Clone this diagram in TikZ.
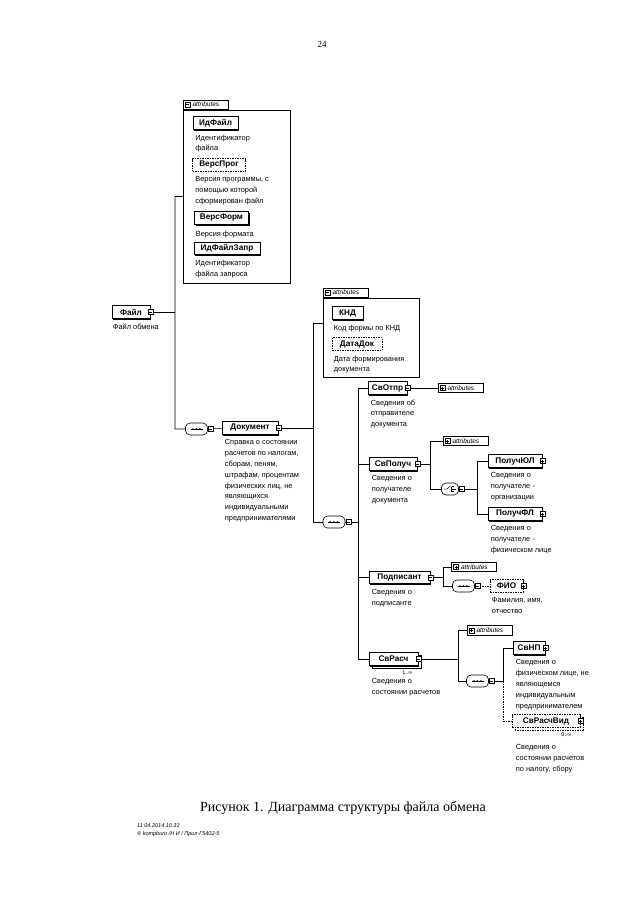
\documentclass[tikz,border=0pt]{standalone}
\usepackage{fontspec}
\setmainfont{Liberation Serif}
\setsansfont{Liberation Sans}
\usetikzlibrary{positioning,shadows,backgrounds}

\tikzset{
  elem/.style={draw, fill=white, line width=0.6pt, font=\sffamily\bfseries\fontsize{8.2}{9}\selectfont,
    minimum height=12.5pt, inner sep=1pt,
    general shadow={fill=black, shadow xshift=1.3pt, shadow yshift=-1.3pt}},
  optelem/.style={draw, fill=white, line width=0.6pt, dash pattern=on 1.5pt off 1pt,
    font=\sffamily\bfseries\fontsize{8.2}{9}\selectfont, minimum height=12.5pt, inner sep=1pt},
  multielem/.style={draw, fill=white, line width=0.6pt, font=\sffamily\bfseries\fontsize{8.2}{9}\selectfont,
    minimum height=12.5pt, inner sep=1pt,
    general shadow={draw, fill=white, line width=0.6pt, shadow xshift=2.8pt, shadow yshift=-2.8pt},
    general shadow={fill=black, shadow xshift=1.3pt, shadow yshift=-1.3pt}},
  multiopt/.style={draw, fill=white, line width=0.6pt, dash pattern=on 1.5pt off 1pt,
    font=\sffamily\bfseries\fontsize{8.2}{9}\selectfont, minimum height=12.5pt, inner sep=1pt,
    general shadow={draw, fill=white, line width=0.6pt, dash pattern=on 1.5pt off 1pt, shadow xshift=2.8pt, shadow yshift=-2.8pt}},
  descr/.style={font=\sffamily\fontsize{7.4}{10.8}\selectfont, align=left, inner sep=0pt, anchor=north west},
  card/.style={font=\sffamily\fontsize{5.5}{6}\selectfont, inner sep=0pt},
  compo/.style={draw, fill=white, line width=0.6pt, rounded corners=4.5pt, minimum width=22pt,
    minimum height=12pt, inner sep=0pt},
  attrtab/.style={draw, fill=white, line width=0.6pt, font=\sffamily\itshape\fontsize{6.5}{7}\selectfont,
    text width=40pt, align=left, minimum height=9.5pt, inner xsep=2.5pt, inner ysep=0pt},
  frame/.style={draw, fill=white, line width=0.6pt, inner sep=0pt,
    general shadow={fill=black, shadow xshift=1.1pt, shadow yshift=-1.1pt}},
  conn/.style={line width=0.6pt},
  optconn/.style={line width=0.6pt, dash pattern=on 1.5pt off 1pt},
  minusbox/.pic={\draw[fill=white, line width=0.5pt] (-2.5,-2.5) rectangle (2.5,2.5);
    \draw[line width=0.5pt] (-1.5,0) -- (1.5,0);},
  plusbox/.pic={\draw[fill=white, line width=0.5pt] (-2.5,-2.5) rectangle (2.5,2.5);
    \draw[line width=0.5pt] (-1.5,0) -- (1.5,0) (0,-1.5) -- (0,1.5);},
  seqmark/.pic={\draw[line width=0.5pt] (-6,0) -- (6,0);
    \fill (-3.5,0) circle (0.8) (0,0) circle (0.8) (3.5,0) circle (0.8);},
  choicemark/.pic={\draw[line width=0.5pt] (-6,0) -- (-3,0) -- (0.5,-3);
    \draw[line width=0.5pt] (1.5,-2.5) -- (1.5,2.5) (1.5,-2.5) -- (4,-2.5) (1.5,0) -- (6,0) (1.5,2.5) -- (4,2.5);},
}

\begin{document}
\begin{tikzpicture}[x=1pt,y=-1pt]
\useasboundingbox (0,0) rectangle (640,905);

\node[font=\fontsize{9}{10}\selectfont] (pagenum) at (322,45) {24};

% root
\node[elem, minimum width=38pt] (fajl) at (131,312) {Файл\hspace{4pt}};
\pic at (fajl.east) {minusbox};
\node[descr] (fajld) at ([xshift=1pt,yshift=-5pt]fajl.south west) {Файл обмена};

% attributes of the root
\node[frame, minimum width=107pt, minimum height=173pt] (attrfajl) at (236.5,196.5) {};
\node[attrtab, anchor=south west] (tabfajl) at (attrfajl.north west) {\hspace*{7pt}attributes};
\pic at ([xshift=5pt]tabfajl.west) {minusbox};

\node[elem, minimum width=45pt] (idfajl) at (215.5,123) {ИдФайл};
\node[descr] (idfajld) at ([xshift=2.5pt,yshift=-5pt]idfajl.south west) {Идентификатор\\файла};
\node[optelem, minimum width=53pt] (versprog) at (219,165) {ВерсПрог};
\node[descr] (versprogd) at ([xshift=3pt,yshift=-5pt]versprog.south west) {Версия программы, с\\помощью которой\\сформирован файл};
\node[elem, minimum width=54pt] (versform) at (221.5,218) {ВерсФорм};
\node[descr] (versformd) at ([xshift=1.5pt,yshift=-6pt]versform.south west) {Версия формата};
\node[elem, minimum width=66pt] (idzapr) at (227,248.5) {ИдФайлЗапр};
\node[descr] (idzaprd) at ([xshift=1.5pt,yshift=-5pt]idzapr.south west) {Идентификатор\\файла запроса};

% document
\node[compo] (seqdoc) at (196.5,429) {};
\pic at (seqdoc) {seqmark};
\pic at ([xshift=3pt]seqdoc.east) {minusbox};
\node[elem, minimum width=56pt] (doc) at (250,428) {Документ\hspace{4pt}};
\pic at (doc.east) {minusbox};
\node[descr] (docd) at ([xshift=3pt,yshift=-5pt]doc.south west) {Справка о состоянии\\расчетов по налогам,\\сборам, пеням,\\штрафам, процентам\\физических лиц, не\\являющихся\\индивидуальными\\предпринимателями};

% attributes of the document
\node[frame, minimum width=96pt, minimum height=79pt] (attrdoc) at (371,337.5) {};
\node[attrtab, anchor=south west] (tabdoc) at (attrdoc.north west) {\hspace*{7pt}attributes};
\pic at ([xshift=5pt]tabdoc.west) {minusbox};
\node[elem, minimum width=31pt] (knd) at (347.5,313) {КНД};
\node[descr] (kndd) at ([xshift=2pt,yshift=-5pt]knd.south west) {Код формы по КНД};
\node[optelem, minimum width=50pt] (datadok) at (357,344) {ДатаДок};
\node[descr] (datadokd) at ([xshift=2pt,yshift=-5pt]datadok.south west) {Дата формирования\\документа};

% content of the document
\node[compo] (seqmain) at (334,522) {};
\pic at (seqmain) {seqmark};
\pic at ([xshift=3pt]seqmain.east) {minusbox};

\node[elem, minimum width=39pt] (svotpr) at (387.5,388) {СвОтпр\hspace{4pt}};
\pic at (svotpr.east) {minusbox};
\node[attrtab] (attrotpr) at (460.5,388) {\hspace*{7pt}attributes};
\pic at ([xshift=5pt]attrotpr.west) {plusbox};
\node[descr] (svotprd) at ([xshift=3pt,yshift=-5pt]svotpr.south west) {Сведения об\\отправителе\\документа};

\node[elem, minimum width=48pt] (svpoluch) at (393,464) {СвПолуч\hspace{4pt}};
\pic at (svpoluch.east) {minusbox};
\node[descr] (svpoluchd) at ([xshift=3pt,yshift=-5pt]svpoluch.south west) {Сведения о\\получателе\\документа};
\node[attrtab] (attrpol) at (465.5,441) {\hspace*{7pt}attributes};
\pic at ([xshift=5pt]attrpol.west) {plusbox};
\node[compo, minimum width=17pt] (choicepol) at (450,489) {};
\pic at (choicepol) {choicemark};
\pic at ([xshift=3pt]choicepol.east) {minusbox};
\node[elem, minimum width=54pt] (poljul) at (515,461) {ПолучЮЛ\hspace{4pt}};
\pic at (poljul.east) {plusbox};
\node[descr] (poljuld) at ([xshift=3pt,yshift=-5pt]poljul.south west) {Сведения о\\получателе -\\организации};
\node[elem, minimum width=54pt] (polfl) at (515,514) {ПолучФЛ\hspace{4pt}};
\pic at (polfl.east) {plusbox};
\node[descr] (polfld) at ([xshift=3pt,yshift=-5pt]polfl.south west) {Сведения о\\получателе -\\физическом лице};

\node[elem, minimum width=61pt] (podp) at (399.5,577.5) {Подписант\hspace{4pt}};
\pic at (podp.east) {minusbox};
\node[descr] (podpd) at ([xshift=3pt,yshift=-5pt]podp.south west) {Сведения о\\подписанте};
\node[attrtab] (attrpodp) at (474,567) {\hspace*{7pt}attributes};
\pic at ([xshift=5pt]attrpodp.west) {plusbox};
\node[compo] (seqpodp) at (463.5,586) {};
\pic at (seqpodp) {seqmark};
\pic at ([xshift=3pt]seqpodp.east) {minusbox};
\node[optelem, minimum width=33pt] (fio) at (506.5,586) {ФИО\hspace{4pt}};
\pic at (fio.east) {plusbox};
\node[descr] (fiod) at ([xshift=2pt,yshift=-5pt]fio.south west) {Фамилия, имя,\\отчество};

\node[multielem, minimum width=49pt] (svrasch) at (393.5,659) {СвРасч\hspace{4pt}};
\pic at (svrasch.east) {minusbox};
\node[card] (svraschn) at ([xshift=-11pt,yshift=-7pt]svrasch.south east) {1..∞};
\node[descr] (svraschd) at ([xshift=3pt,yshift=-13pt]svrasch.south west) {Сведения о\\состоянии расчетов};
\node[attrtab] (attrrasch) at (489.5,630.5) {\hspace*{7pt}attributes};
\pic at ([xshift=5pt]attrrasch.west) {plusbox};
\node[compo] (seqrasch) at (477.5,681) {};
\pic at (seqrasch) {seqmark};
\pic at ([xshift=3pt]seqrasch.east) {minusbox};
\node[elem, minimum width=32pt] (svnp) at (529,648) {СвНП\hspace{4pt}};
\pic at (svnp.east) {plusbox};
\node[descr] (svnpd) at ([xshift=3pt,yshift=-5pt]svnp.south west) {Сведения о\\физическом лице, не\\являющемся\\индивидуальным\\предпринимателем};
\node[multiopt, minimum width=68pt] (rvid) at (546,721) {СвРасчВид\hspace{4pt}};
\pic at (rvid.east) {plusbox};
\node[card] (rvidn) at ([xshift=-14pt,yshift=-7pt]rvid.south east) {0..∞};
\node[descr] (rvidd) at ([xshift=4pt,yshift=-17pt]rvid.south west) {Сведения о\\состоянии расчетов\\по налогу, сбору};

% buses
\coordinate (busfajl) at (175,0);
\coordinate (busdoc) at (313,0);
\coordinate (busmain) at (358,0);
\coordinate (buspol) at (430,0);
\coordinate (buspolv) at (477,0);
\coordinate (buspodp) at (443,0);
\coordinate (busrasch) at (458,0);
\coordinate (busraschv) at (503,0);
\coordinate (a2in) at (323,323);

\begin{scope}[on background layer]
  \draw[conn] (fajl.east) -- (fajl.east -| busfajl);
  \draw[conn] (attrfajl.west) -| (busfajl |- seqdoc) -- (seqdoc) -- (doc);
  \draw[conn] (doc.east) -- (doc.east -| busdoc);
  \draw[conn] (a2in) -| (busdoc |- seqmain) -- (seqmain) -- (seqmain -| busmain);
  \draw[conn] (svotpr.west) -| (busmain |- svrasch.west) -- (svrasch.west);
  \draw[conn] (svpoluch.west) -- (svpoluch.west -| busmain);
  \draw[conn] (podp.west) -- (podp.west -| busmain);
  \draw[conn] (svotpr.east) -- (attrotpr.west);
  \draw[conn] (svpoluch.east) -- (svpoluch.east -| buspol);
  \draw[conn] (attrpol.west) -| (buspol |- choicepol) -- (choicepol) -- (choicepol -| buspolv);
  \draw[conn] (poljul.west) -| (buspolv |- polfl.west) -- (polfl.west);
  \draw[conn] (podp.east) -- (podp.east -| buspodp);
  \draw[conn] (attrpodp.west) -| (buspodp |- seqpodp) -- (seqpodp);
  \draw[optconn] (seqpodp.east) -- (fio.west);
  \draw[conn] (svrasch.east) -- (svrasch.east -| busrasch);
  \draw[conn] (attrrasch.west) -| (busrasch |- seqrasch) -- (seqrasch);
  \draw[conn] (svnp.west) -| (busraschv |- seqrasch) -- (seqrasch);
  \draw[optconn] (busraschv |- seqrasch) -- (busraschv |- rvid) -- (rvid.west);
\end{scope}

% caption and footer
\node[font=\fontsize{14}{16}\selectfont] (caption) at (343,808) {Рисунок 1. Диаграмма структуры файла обмена};
\node[font=\sffamily\itshape\fontsize{5.5}{6}\selectfont, anchor=west, inner sep=0pt] (stamp) at (137,826) {11 04.2014 10.33};
\node[font=\sffamily\itshape\fontsize{5.5}{6}\selectfont, anchor=west, inner sep=0pt] (stampb) at (137,834) {© kompburo /Н И / Прил-Г5402-5};
\end{tikzpicture}
\end{document}
